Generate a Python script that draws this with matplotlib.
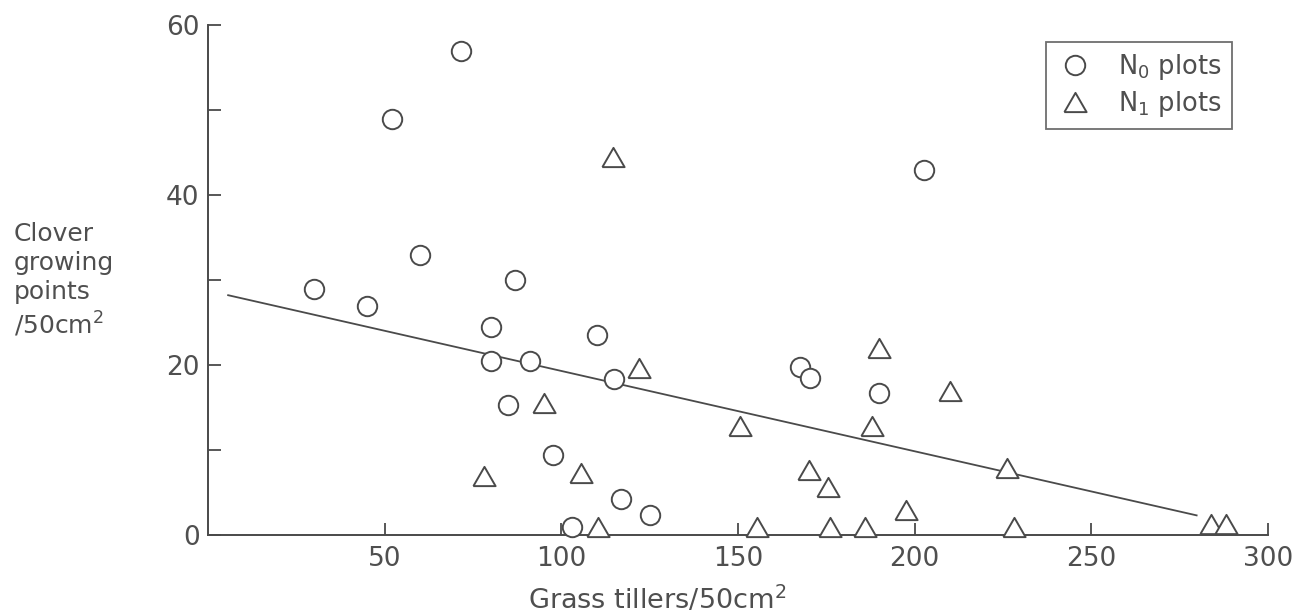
# -*- coding: UTF-8 -*-
# 三叶草生长点与禾草分蘖数的关系（N0 / N1 两组小区）
import numpy as np
import matplotlib
matplotlib.use('Agg')
import matplotlib.pyplot as plt

# N0 小区（圆圈）
n0_x = [30, 45, 52, 60, 71.5, 80, 80, 85, 87, 91, 97.5, 103, 110, 115, 117, 125,
        167.5, 170.5, 190, 202.5]
n0_y = [29, 27, 49, 33, 57, 24.5, 20.5, 15.3, 30, 20.5, 9.4, 0.9, 23.5, 18.3, 4.2, 2.3,
        19.8, 18.5, 16.7, 43]

# N1 小区（三角）
n1_x = [78, 95, 105.5, 110.5, 114.5, 122, 150.5, 155.5, 170, 175.5, 176, 186, 188,
        190, 197.5, 210, 226, 228, 284, 288]
n1_y = [7, 15.5, 7.3, 1, 44.5, 19.6, 12.8, 1, 7.7, 5.7, 1, 1, 12.8,
        22, 3, 17, 7.9, 1, 1.3, 1.3]

# 回归直线
fit_intercept = 28.75
fit_slope = -0.0945
fit_range = [5.7, 279.8]

x_ticks = [50, 100, 150, 200, 250, 300]
y_ticks = [0, 20, 40, 60]
y_minor = [10, 30, 50]

ink = '#4a4a4a'
txt = '#4f4f4f'

plt.rcParams['font.family'] = ['DejaVu Sans']
plt.rcParams['mathtext.fontset'] = 'dejavusans'

fig = plt.figure(figsize=(13.06, 6.15), dpi=100)
ax = fig.add_axes([208 / 1306, 1 - 535 / 615, 1060 / 1306, 510 / 615])

fx = np.array(fit_range)
ax.plot(fx, fit_intercept + fit_slope * fx, color=ink, lw=1.3, zorder=2)

tri = [(-1, -0.866), (1, -0.866), (0, 0.866), (-1, -0.866)]
ax.plot(n0_x, n0_y, linestyle='none', marker='o', ms=14, mfc='white', mec=ink,
        mew=1.4, clip_on=False, zorder=4, label=r'N$_0$ plots')
ax.plot(n1_x, n1_y, linestyle='none', marker=tri, ms=16, mfc='white', mec=ink,
        mew=1.4, clip_on=False, zorder=4, label=r'N$_1$ plots')

ax.set_xlim(0, 300)
ax.set_ylim(0, 60)
for s in ['top', 'right']:
    ax.spines[s].set_visible(False)
for s in ['left', 'bottom']:
    ax.spines[s].set_color(ink)
    ax.spines[s].set_linewidth(1.4)

ax.set_xticks(x_ticks)
ax.set_yticks(y_ticks)
ax.set_yticks(y_minor, minor=True)
ax.tick_params(axis='both', which='both', direction='in', length=9, width=1.3,
               color=ink, labelcolor=txt, labelsize=19)
ax.tick_params(axis='x', pad=8)
ax.tick_params(axis='y', pad=6)

leg = ax.legend(loc='upper right', bbox_to_anchor=(0.966, 0.967), borderaxespad=0,
                fontsize=18.5, frameon=True, fancybox=False, handlelength=1.4,
                handletextpad=1.0, borderpad=0.4, labelspacing=0.25)
leg.get_frame().set_edgecolor(ink)
leg.get_frame().set_linewidth(1.3)
for t in leg.get_texts():
    t.set_color(txt)

fig.text(14 / 1306, 1 - 222 / 615, 'Clover\ngrowing\npoints\n/50cm$^2$', ha='left',
         va='top', fontsize=18, color=txt, linespacing=1.25)
fig.text(657 / 1306, 1 - 600 / 615, 'Grass tillers/50cm$^2$', ha='center',
         va='center', fontsize=19.5, color=txt)

fig.savefig('out.png', dpi=100)
